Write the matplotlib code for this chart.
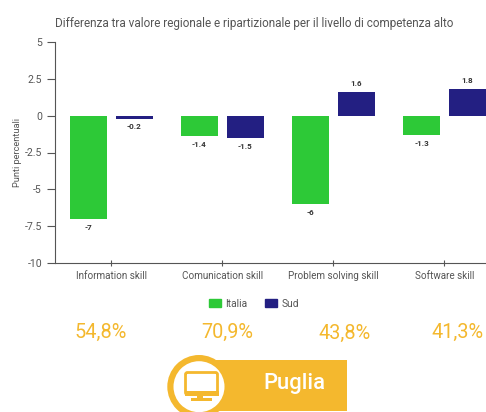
import numpy as np
import matplotlib
matplotlib.use("Agg")
import matplotlib.pyplot as plt
from matplotlib.patches import Circle, FancyBboxPatch, Patch, Rectangle

# ----------------------- data ---------------------------------------------- #
skills = ["Information skill", "Comunication skill", "Problem solving skill", "Software skill"]
italia = [-7, -1.4, -6, -1.3]
sud = [-0.2, -1.5, 1.6, 1.8]
y_ticks = [5, 2.5, 0, -2.5, -5, -7.5, -10]
y_tick_labels = ["5", "2.5", "0", "-2.5", "-5", "-7.5", "-10"]
percentages = ["54,8%", "70,9%", "43,8%", "41,3%"]

GREEN = "#2dc937"
BLUE = "#231f82"
YELLOW = "#f4b82e"
GREY = "#555555"
W, H = 486, 412

plt.rcParams['font.family'] = ['Roboto', 'DejaVu Sans']

fig = plt.figure(figsize=(W / 100, H / 100), dpi=100)
ax = fig.add_axes([54.5 / W, 1 - 263 / H, (W - 54.5) / W, 221 / H])

# bars
x = np.arange(len(skills))
bar_w = 0.333
bars_i = ax.bar(x - 0.207, italia, bar_w, color=GREEN)
bars_s = ax.bar(x + 0.207, sud, bar_w, color=BLUE, clip_on=False)

# value labels
for bars in (bars_i, bars_s):
    ax.bar_label(bars, padding=3.5, fontsize=5.8, color="#333333", fontweight="bold")

ax.set_xlim(-0.511, 3.374)
ax.set_ylim(-10, 5)
ax.set_xticks(x)
ax.set_xticklabels(skills, fontsize=7.1, color=GREY)
ax.set_yticks(y_ticks)
ax.set_yticklabels(y_tick_labels, fontsize=7.6, color=GREY)
ax.tick_params(axis='x', length=4, width=0.8, color=GREY, pad=4, direction='inout')
ax.tick_params(axis='y', length=6, width=0.8, color=GREY, pad=3)
ax.spines['top'].set_visible(False)
ax.spines['right'].set_visible(False)
ax.spines['left'].set_color(GREY)
ax.spines['bottom'].set_color(GREY)
ax.set_ylabel("Punti percentuali", fontsize=6.7, color=GREY)
ax.yaxis.set_label_coords(-33 / (W - 54.5), 0.5)

fig.text(55 / W, 1 - 23.5 / H, "Differenza tra valore regionale e ripartizionale per il livello di competenza alto",
         fontsize=8.45, color=GREY, va='center', ha='left')

# legend
handles = [Patch(color=GREEN, label="Italia"), Patch(color=BLUE, label="Sud")]
fig.legend(handles=handles, loc='center', bbox_to_anchor=(254 / W, 1 - 304 / H), ncol=2, frameon=False,
           fontsize=7.4, labelcolor=GREY, handlelength=1.17, handleheight=0.82, handletextpad=0.4,
           columnspacing=1.7, borderpad=0)

# overlay in pixel coordinates for the percentages and the region banner
over = fig.add_axes([0, 0, 1, 1], facecolor='none')
over.set_xlim(0, W)
over.set_ylim(H, 0)
over.axis('off')

for pct, px, py in zip(percentages, [100.5, 227, 344.5, 457.5], [332, 332, 333, 332]):
    over.text(px, py, pct, fontsize=14.3, color=YELLOW, ha='center', va='center')

over.add_patch(Rectangle((199, 360), 147.5, 51, color=YELLOW, lw=0))
over.add_patch(Circle((199, 386.7), 31.7, color=YELLOW, lw=0))
over.add_patch(Circle((199, 386.7), 25.5, color='white', lw=0))
over.text(294, 384, "Puglia", fontsize=15.8, color='white', ha='center', va='center', fontweight='medium')

# monitor icon
over.add_patch(FancyBboxPatch((185.5, 372.5), 32, 22, boxstyle="round,pad=0,rounding_size=2",
                              fc='white', ec=YELLOW, lw=2))
over.add_patch(Rectangle((184.5, 391), 34, 4.5, color=YELLOW, lw=0))
over.add_patch(Rectangle((197, 395), 6, 3, color=YELLOW, lw=0))
over.add_patch(Rectangle((190.5, 398), 21, 2.5, color=YELLOW, lw=0))

fig.savefig("out.png", dpi=100)
